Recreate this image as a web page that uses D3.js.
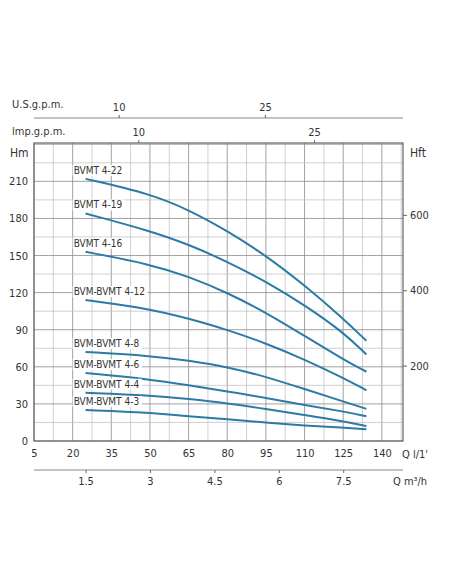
<!DOCTYPE html>
<html><head><meta charset="utf-8">
<script src="https://cdn.jsdelivr.net/npm/d3@7"></script>
<style>body{margin:0;background:#fff}text{font-family:"DejaVu Sans Condensed","Liberation Sans",sans-serif;fill:#333}</style>
</head><body><svg id="c" width="452" height="584"></svg>
<script>
const flows = [25, 50, 65, 80, 95, 110, 125, 134];
const models = ["BVMT 4-22", "BVMT 4-19", "BVMT 4-16", "BVM-BVMT 4-12", "BVM-BVMT 4-8", "BVM-BVMT 4-6", "BVM-BVMT 4-4", "BVM-BVMT 4-3"];
const heads = [
  [212, 200, 187, 170, 150, 126, 99, 81],
  [184, 170, 159, 145, 129, 110, 88, 70],
  [153, 143, 133, 120, 104, 85, 66, 56],
  [114, 107, 99, 90, 79, 66, 51, 41],
  [72, 69, 65, 60, 52, 42, 32, 26],
  [55, 50, 45, 40, 35, 29, 24, 20],
  [39, 37, 34, 30.5, 26, 21, 16, 12],
  [25, 23, 20, 17.5, 15, 12.5, 10.8, 9.5]
];
const lpmTicks = [5, 20, 35, 50, 65, 80, 95, 110, 125, 140];
const m3hTicks = [1.5, 3, 4.5, 6, 7.5];
const usTicks = [10, 25];
const impTicks = [10, 25];
const hmTicks = [0, 30, 60, 90, 120, 150, 180, 210];
const hftTicks = [200, 400, 600];

const svg = d3.select('#c');
const x = d3.scaleLinear().domain([5, 148.2]).range([34, 403]);
const y = d3.scaleLinear().domain([0, 241]).range([441, 143]);

// grid
const g = svg.append('g');
g.selectAll('line.v').data(d3.range(5, 148, 7.5)).join('line')
  .attr('x1', d => x(d)).attr('x2', d => x(d)).attr('y1', y(241)).attr('y2', y(0))
  .attr('stroke', (d, i) => i % 2 ? '#c4c4c4' : '#8a8a8a').attr('stroke-width', 0.8);
g.selectAll('line.h').data(d3.range(0, 241, 15)).join('line')
  .attr('y1', d => y(d)).attr('y2', d => y(d)).attr('x1', x(5)).attr('x2', x(148.2))
  .attr('stroke', (d, i) => i % 2 ? '#c4c4c4' : '#8a8a8a').attr('stroke-width', 0.8);
svg.append('rect').attr('x', 34).attr('y', 143).attr('width', 369).attr('height', 298)
  .attr('fill', 'none').attr('stroke', '#666').attr('stroke-width', 1.2);

// axes
const ax = (sel, a) => { sel.call(a); sel.select('.domain').remove(); sel.selectAll('text').attr('font-size', 11).attr('fill', '#333'); sel.selectAll('line').attr('stroke', '#666'); };
svg.append('g').attr('transform', 'translate(0,441)')
  .call(s => ax(s, d3.axisBottom(x).tickValues(lpmTicks).tickSize(0).tickPadding(8)));
svg.append('g').attr('transform', 'translate(34,0)')
  .call(s => ax(s, d3.axisLeft(y).tickValues(hmTicks).tickSize(0).tickPadding(6)));
const yft = d3.scaleLinear().domain([0, 241 / 0.3048]).range([441, 143]);
svg.append('g').attr('transform', 'translate(403,0)')
  .call(s => ax(s, d3.axisRight(yft).tickValues(hftTicks).tickSize(4).tickPadding(3)));

const xm3 = d3.scaleLinear().domain([5 * 0.06, 148.2 * 0.06]).range([34, 403]);
svg.append('line').attr('x1', 34).attr('x2', 403).attr('y1', 470).attr('y2', 470).attr('stroke', '#888');
svg.append('g').attr('transform', 'translate(0,470)')
  .call(s => ax(s, d3.axisBottom(xm3).tickValues(m3hTicks).tickFormat(d => d).tickSize(3).tickPadding(4)));

const xus = d3.scaleLinear().domain([5 / 3.785, 148.2 / 3.785]).range([34, 403]);
svg.append('line').attr('x1', 34).attr('x2', 403).attr('y1', 118).attr('y2', 118).attr('stroke', '#888');
svg.append('g').attr('transform', 'translate(0,118)')
  .call(s => ax(s, d3.axisTop(xus).tickValues(usTicks).tickSize(3).tickPadding(4)));
const ximp = d3.scaleLinear().domain([5 / 4.546, 148.2 / 4.546]).range([34, 403]);
svg.append('g').attr('transform', 'translate(0,143)')
  .call(s => ax(s, d3.axisTop(ximp).tickValues(impTicks).tickSize(3).tickPadding(4)));

const lab = (t, px, py, fs) => svg.append('text').attr('x', px).attr('y', py).attr('font-size', fs || 11).text(t);
lab('U.S.g.p.m.', 12, 108); lab('lmp.g.p.m.', 12, 135);
lab('Hm', 10, 157, 12); lab('Hft', 410, 157, 12);
lab("Q  l/1'", 402, 458); lab('Q  m³/h', 393, 485);

// curves
const line = d3.line().x((d, i) => x(flows[i])).y(d => y(d)).curve(d3.curveBasis);
svg.append('g').selectAll('path').data(heads).join('path')
  .attr('d', line).attr('fill', 'none').attr('stroke', '#2c7ba6').attr('stroke-width', 2);

const lg = svg.append('g').selectAll('g').data(models).join('g')
  .attr('transform', (d, i) => `translate(${x(20) + 1},${y(heads[i][0]) - 5})`);
lg.append('rect').attr('x', -1).attr('y', -9).attr('height', 11)
  .attr('width', d => d.length * 5.6 + 2).attr('fill', '#fff');
lg.append('text').attr('font-size', 10).attr('fill', '#333').text(d => d);
</script></body></html>
